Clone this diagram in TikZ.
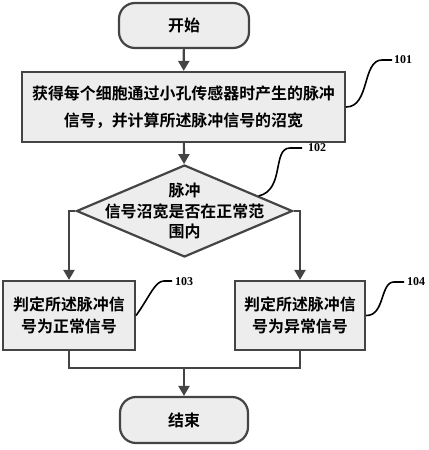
\documentclass[tikz,border=0pt]{standalone}
\usepackage{fontspec}
\newfontfamily\cjk{Noto Sans CJK SC Bold}
\setmainfont{Liberation Serif}
\usetikzlibrary{shapes.geometric,arrows.meta,calc}
\definecolor{edgec}{HTML}{444444}
\definecolor{fillc}{HTML}{EDEDED}
\begin{document}
\begin{tikzpicture}[x=1bp,y=-1bp,
  box/.style={draw=edgec,fill=fillc,line width=2.2bp,inner sep=0pt},
  term/.style={box,rounded corners=16bp},
  txt/.style={align=center,inner sep=0pt,font=\cjk\fontsize{16}{#1}\selectfont},
  txt/.default=22,
  arr/.style={draw=edgec,line width=2.2bp,-{Triangle[width=11bp,length=10bp]}},
  ln/.style={draw=edgec,line width=2.2bp},
  tag/.style={draw=black,line width=1.6bp},
  num/.style={anchor=west,inner sep=0pt,font=\bfseries\fontsize{12}{12}\selectfont}]
\useasboundingbox (0,0) rectangle (428,450);
% nodes
\node[term,minimum width=130bp,minimum height=45bp] (start) at (184,25.5) {};
\node[txt] (starttxt) at (start) {开始};
\node[box,minimum width=323bp,minimum height=70bp] (b101) at (183.5,107) {};
\node[txt=27] (t101) at (b101) {获得每个细胞通过小孔传感器时产生的脉冲\\信号，并计算所述脉冲信号的沼宽};
\node[diamond,box,minimum width=216bp,minimum height=92bp] (dia) at (184.5,211) {};
\node[txt=20.5] (tdia) at (dia) {脉冲\\信号沼宽是否在正常范\\围内};
\node[box,minimum width=132bp,minimum height=69bp] (b103) at (69,315.5) {};
\node[txt] (t103) at (b103) {判定所述脉冲信\\号为正常信号};
\node[box,minimum width=130bp,minimum height=69bp] (b104) at (300,315.5) {};
\node[txt] (t104) at (b104) {判定所述脉冲信\\号为异常信号};
\node[term,minimum width=128bp,minimum height=46bp] (end) at (184,420) {};
\node[txt] (endtxt) at (end) {结束};
% connectors
\draw[arr] (start) -- (b101);
\draw[arr] (b101) -- (dia);
\draw[arr] (dia.west) -| (b103.north);
\draw[arr] (dia.east) -| (b104.north);
\coordinate (m) at (184,368);
\draw[ln] (b103.south) |- (m) -| (b104.south);
\draw[arr] (m) -- (end.north);
% reference labels
\coordinate (c101) at (392,60);
\draw[tag] (b101.east) .. controls (370,107) and (362,60) .. (382,60) -- (c101);
\node[num] (n101) at (394,60) {101};
\coordinate (p102) at ($(dia.north)!0.68!(dia.east)$);
\coordinate (c102) at (302,148);
\draw[tag] (p102) .. controls (285,190) and (272,148) .. (290,148) -- (c102);
\node[num] (n102) at (308,148) {102};
\coordinate (c103) at (172,281);
\draw[tag] (b103.east) .. controls (150,296) and (155,281) .. (164,281) -- (c103);
\node[num] (n103) at (175,282) {103};
\coordinate (c104) at (404,282);
\draw[tag] (b104.east) .. controls (385,316) and (380,282) .. (394,282) -- (c104);
\node[num] (n104) at (407,282) {104};
\end{tikzpicture}
\end{document}
